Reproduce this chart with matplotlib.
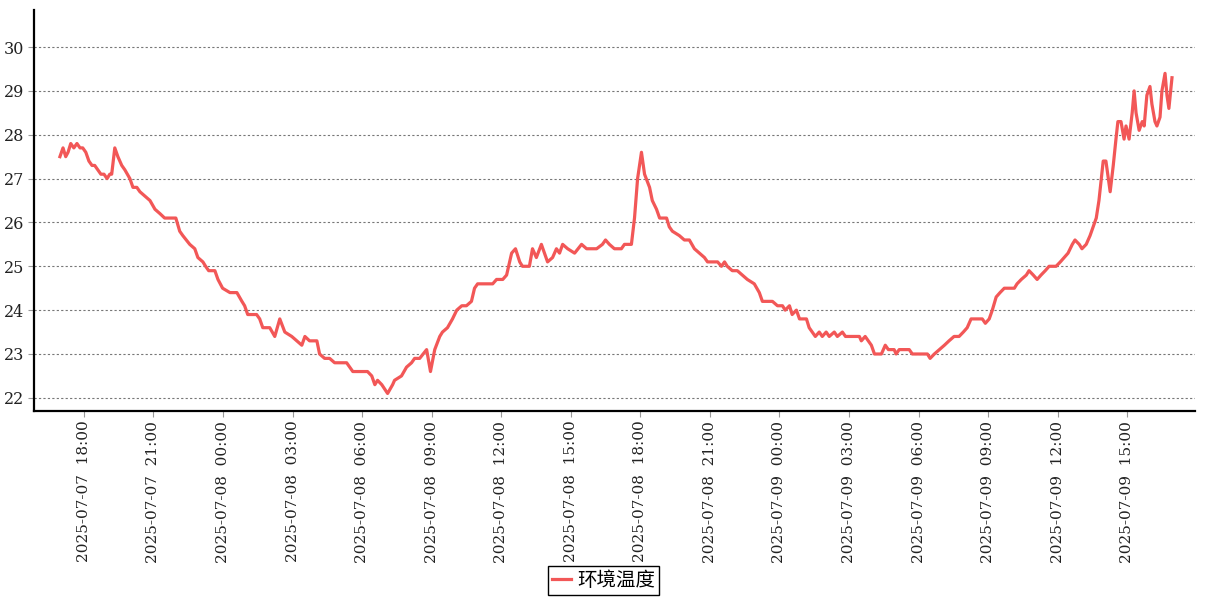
import matplotlib
matplotlib.use("Agg")
import matplotlib.pyplot as plt
import pandas as pd

# 环境温度 readings
times = [
    "2025-07-07 16:58", "2025-07-07 17:06", "2025-07-07 17:13", "2025-07-07 17:19", "2025-07-07 17:26",
    "2025-07-07 17:34", "2025-07-07 17:42", "2025-07-07 17:50", "2025-07-07 17:57", "2025-07-07 18:05",
    "2025-07-07 18:13", "2025-07-07 18:21", "2025-07-07 18:28", "2025-07-07 18:36", "2025-07-07 18:44",
    "2025-07-07 18:52", "2025-07-07 19:00", "2025-07-07 19:07", "2025-07-07 19:12", "2025-07-07 19:20",
    "2025-07-07 19:28", "2025-07-07 19:38", "2025-07-07 19:46", "2025-07-07 19:59", "2025-07-07 20:07",
    "2025-07-07 20:17", "2025-07-07 20:25", "2025-07-07 20:38", "2025-07-07 20:51", "2025-07-07 21:04",
    "2025-07-07 21:17", "2025-07-07 21:29", "2025-07-07 21:58", "2025-07-07 22:08", "2025-07-07 22:16",
    "2025-07-07 22:34", "2025-07-07 22:47", "2025-07-07 22:55", "2025-07-07 23:08", "2025-07-07 23:15",
    "2025-07-07 23:23", "2025-07-07 23:39", "2025-07-07 23:47", "2025-07-07 23:59", "2025-07-08 00:18",
    "2025-07-08 00:28", "2025-07-08 00:36", "2025-07-08 00:49", "2025-07-08 00:56", "2025-07-08 01:04",
    "2025-07-08 01:27", "2025-07-08 01:35", "2025-07-08 01:43", "2025-07-08 02:01", "2025-07-08 02:14",
    "2025-07-08 02:27", "2025-07-08 02:40", "2025-07-08 02:58", "2025-07-08 03:11", "2025-07-08 03:24",
    "2025-07-08 03:32", "2025-07-08 03:44", "2025-07-08 04:03", "2025-07-08 04:10", "2025-07-08 04:23",
    "2025-07-08 04:36", "2025-07-08 04:49", "2025-07-08 04:57", "2025-07-08 05:20", "2025-07-08 05:36",
    "2025-07-08 06:14", "2025-07-08 06:25", "2025-07-08 06:33", "2025-07-08 06:40", "2025-07-08 06:51",
    "2025-07-08 07:06", "2025-07-08 07:19", "2025-07-08 07:24", "2025-07-08 07:42", "2025-07-08 07:55",
    "2025-07-08 08:08", "2025-07-08 08:16", "2025-07-08 08:29", "2025-07-08 08:47", "2025-07-08 08:57",
    "2025-07-08 09:08", "2025-07-08 09:21", "2025-07-08 09:28", "2025-07-08 09:41", "2025-07-08 09:54",
    "2025-07-08 10:05", "2025-07-08 10:18", "2025-07-08 10:30", "2025-07-08 10:43", "2025-07-08 10:51",
    "2025-07-08 10:59", "2025-07-08 11:38", "2025-07-08 11:48", "2025-07-08 12:04", "2025-07-08 12:14",
    "2025-07-08 12:27", "2025-07-08 12:37", "2025-07-08 12:48", "2025-07-08 12:55", "2025-07-08 13:13",
    "2025-07-08 13:21", "2025-07-08 13:31", "2025-07-08 13:44", "2025-07-08 14:00", "2025-07-08 14:13",
    "2025-07-08 14:23", "2025-07-08 14:31", "2025-07-08 14:39", "2025-07-08 14:52", "2025-07-08 15:10",
    "2025-07-08 15:28", "2025-07-08 15:41", "2025-07-08 16:07", "2025-07-08 16:22", "2025-07-08 16:30",
    "2025-07-08 16:40", "2025-07-08 16:53", "2025-07-08 17:11", "2025-07-08 17:19", "2025-07-08 17:37",
    "2025-07-08 17:45", "2025-07-08 17:53", "2025-07-08 18:03", "2025-07-08 18:11", "2025-07-08 18:24",
    "2025-07-08 18:31", "2025-07-08 18:42", "2025-07-08 18:50", "2025-07-08 19:08", "2025-07-08 19:15",
    "2025-07-08 19:23", "2025-07-08 19:41", "2025-07-08 19:54", "2025-07-08 20:07", "2025-07-08 20:20",
    "2025-07-08 20:33", "2025-07-08 20:46", "2025-07-08 20:54", "2025-07-08 21:20", "2025-07-08 21:30",
    "2025-07-08 21:38", "2025-07-08 21:45", "2025-07-08 21:58", "2025-07-08 22:11", "2025-07-08 22:24",
    "2025-07-08 22:37", "2025-07-08 22:55", "2025-07-08 23:08", "2025-07-08 23:16", "2025-07-08 23:42",
    "2025-07-08 23:55", "2025-07-09 00:08", "2025-07-09 00:15", "2025-07-09 00:26", "2025-07-09 00:33",
    "2025-07-09 00:44", "2025-07-09 00:52", "2025-07-09 01:10", "2025-07-09 01:17", "2025-07-09 01:25",
    "2025-07-09 01:33", "2025-07-09 01:43", "2025-07-09 01:51", "2025-07-09 02:01", "2025-07-09 02:09",
    "2025-07-09 02:22", "2025-07-09 02:30", "2025-07-09 02:43", "2025-07-09 02:51", "2025-07-09 03:27",
    "2025-07-09 03:32", "2025-07-09 03:42", "2025-07-09 03:50", "2025-07-09 03:58", "2025-07-09 04:06",
    "2025-07-09 04:24", "2025-07-09 04:34", "2025-07-09 04:42", "2025-07-09 04:57", "2025-07-09 05:02",
    "2025-07-09 05:10", "2025-07-09 05:36", "2025-07-09 05:44", "2025-07-09 06:23", "2025-07-09 06:30",
    "2025-07-09 06:41", "2025-07-09 06:54", "2025-07-09 07:07", "2025-07-09 07:19", "2025-07-09 07:32",
    "2025-07-09 07:45", "2025-07-09 07:56", "2025-07-09 08:06", "2025-07-09 08:16", "2025-07-09 08:45",
    "2025-07-09 08:53", "2025-07-09 09:03", "2025-07-09 09:11", "2025-07-09 09:21", "2025-07-09 09:31",
    "2025-07-09 09:42", "2025-07-09 10:08", "2025-07-09 10:15", "2025-07-09 10:26", "2025-07-09 10:39",
    "2025-07-09 10:46", "2025-07-09 10:57", "2025-07-09 11:07", "2025-07-09 11:17", "2025-07-09 11:28",
    "2025-07-09 11:38", "2025-07-09 11:56", "2025-07-09 12:07", "2025-07-09 12:17", "2025-07-09 12:27",
    "2025-07-09 12:38", "2025-07-09 12:45", "2025-07-09 12:56", "2025-07-09 13:03", "2025-07-09 13:14",
    "2025-07-09 13:24", "2025-07-09 13:40", "2025-07-09 13:47", "2025-07-09 13:58", "2025-07-09 14:05",
    "2025-07-09 14:16", "2025-07-09 14:24", "2025-07-09 14:31", "2025-07-09 14:36", "2025-07-09 14:44",
    "2025-07-09 14:52", "2025-07-09 14:57", "2025-07-09 15:05", "2025-07-09 15:13", "2025-07-09 15:18",
    "2025-07-09 15:23", "2025-07-09 15:31", "2025-07-09 15:39", "2025-07-09 15:44", "2025-07-09 15:51",
    "2025-07-09 15:59", "2025-07-09 16:04", "2025-07-09 16:12", "2025-07-09 16:17", "2025-07-09 16:25",
    "2025-07-09 16:30", "2025-07-09 16:38", "2025-07-09 16:43", "2025-07-09 16:48", "2025-07-09 16:56",
]

temps = [
    27.5, 27.7, 27.5, 27.6, 27.8, 27.7, 27.8, 27.7, 27.7, 27.6,
    27.4, 27.3, 27.3, 27.2, 27.1, 27.1, 27.0, 27.1, 27.1, 27.7,
    27.5, 27.3, 27.2, 27.0, 26.8, 26.8, 26.7, 26.6, 26.5, 26.3,
    26.2, 26.1, 26.1, 25.8, 25.7, 25.5, 25.4, 25.2, 25.1, 25.0,
    24.9, 24.9, 24.7, 24.5, 24.4, 24.4, 24.4, 24.2, 24.1, 23.9,
    23.9, 23.8, 23.6, 23.6, 23.4, 23.8, 23.5, 23.4, 23.3, 23.2,
    23.4, 23.3, 23.3, 23.0, 22.9, 22.9, 22.8, 22.8, 22.8, 22.6,
    22.6, 22.5, 22.3, 22.4, 22.3, 22.1, 22.3, 22.4, 22.5, 22.7,
    22.8, 22.9, 22.9, 23.1, 22.6, 23.1, 23.4, 23.5, 23.6, 23.8,
    24.0, 24.1, 24.1, 24.2, 24.5, 24.6, 24.6, 24.7, 24.7, 24.8,
    25.3, 25.4, 25.1, 25.0, 25.0, 25.4, 25.2, 25.5, 25.1, 25.2,
    25.4, 25.3, 25.5, 25.4, 25.3, 25.5, 25.4, 25.4, 25.5, 25.6,
    25.5, 25.4, 25.4, 25.5, 25.5, 26.1, 27.0, 27.6, 27.1, 26.8,
    26.5, 26.3, 26.1, 26.1, 25.9, 25.8, 25.7, 25.6, 25.6, 25.4,
    25.3, 25.2, 25.1, 25.1, 25.0, 25.1, 25.0, 24.9, 24.9, 24.8,
    24.7, 24.6, 24.4, 24.2, 24.2, 24.1, 24.1, 24.0, 24.1, 23.9,
    24.0, 23.8, 23.8, 23.6, 23.5, 23.4, 23.5, 23.4, 23.5, 23.4,
    23.5, 23.4, 23.5, 23.4, 23.4, 23.3, 23.4, 23.3, 23.2, 23.0,
    23.0, 23.2, 23.1, 23.1, 23.0, 23.1, 23.1, 23.0, 23.0, 22.9,
    23.0, 23.1, 23.2, 23.3, 23.4, 23.4, 23.5, 23.6, 23.8, 23.8,
    23.7, 23.8, 24.0, 24.3, 24.4, 24.5, 24.5, 24.6, 24.7, 24.8,
    24.9, 24.8, 24.7, 24.8, 24.9, 25.0, 25.0, 25.1, 25.2, 25.3,
    25.5, 25.6, 25.5, 25.4, 25.5, 25.7, 26.1, 26.5, 27.4, 27.4,
    26.7, 27.3, 27.9, 28.3, 28.3, 27.9, 28.2, 27.9, 28.5, 29.0,
    28.5, 28.1, 28.3, 28.2, 28.9, 29.1, 28.7, 28.3, 28.2, 28.4,
    29.0, 29.4, 28.9, 28.6, 29.3,
]

series_name = "环境温度"
x_range = ("2025-07-07 15:51", "2025-07-09 17:56")
y_range = (21.70, 30.84)
y_ticks = [22, 23, 24, 25, 26, 27, 28, 29, 30]
x_ticks = pd.date_range("2025-07-07 18:00", "2025-07-09 15:00", freq="3h")

t = pd.to_datetime(times)

fig = plt.figure(figsize=(12.07, 6.0), dpi=100)
ax = fig.add_axes([0.0282, 0.315, 0.962, 0.668])

ax.plot(t, temps, color="#f25757", linewidth=2.3, label=series_name)

ax.set_xlim(pd.to_datetime(x_range[0]), pd.to_datetime(x_range[1]))
ax.set_ylim(*y_range)
ax.set_yticks(y_ticks)
ax.set_xticks(x_ticks)
ax.set_xticklabels([d.strftime("%Y-%m-%d  %H:%M") for d in x_ticks],
                   rotation=90, family="DejaVu Serif", fontsize=11, color="#222222")
for lab in ax.get_yticklabels():
    lab.set_family("DejaVu Serif")
    lab.set_fontsize(11.5)
    lab.set_color("#222222")

ax.grid(axis="y", linestyle=(0, (2, 2)), color="#777777", linewidth=0.8)
ax.set_axisbelow(True)

for side in ("top", "right"):
    ax.spines[side].set_visible(False)
for side in ("left", "bottom"):
    ax.spines[side].set_linewidth(1.6)
    ax.spines[side].set_color("black")

ax.tick_params(axis="both", length=4, color="#999999", width=0.8, pad=3)

fig.legend(loc="center", bbox_to_anchor=(0.5, 0.033), frameon=True, fancybox=False,
           edgecolor="black", framealpha=1, handlelength=1.0, handletextpad=0.3,
           borderpad=0.2, prop={"family": ["Noto Sans CJK SC", "DejaVu Sans"], "size": 14})

fig.savefig("out.png", dpi=100)
